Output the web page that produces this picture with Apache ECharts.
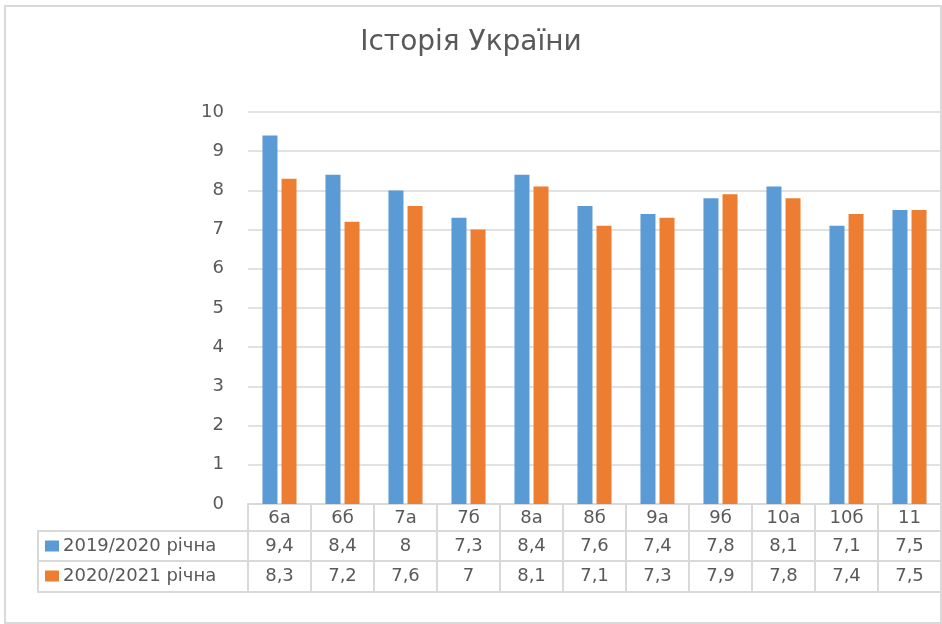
<!DOCTYPE html>
<html>
<head>
<meta charset="utf-8">
<script src="https://cdn.jsdelivr.net/npm/echarts@6/dist/echarts.min.js"></script>
<style>
html,body{margin:0;padding:0;background:#fff;}
#chart{width:942px;height:624px;}
</style>
</head>
<body>
<div id="chart"></div>
<script>
var title = 'Історія України';
var categories = ['6а','6б','7а','7б','8а','8б','9а','9б','10а','10б','11'];
var seriesNames = ['2019/2020 річна','2020/2021 річна'];
var values2019 = [9.4,8.4,8,7.3,8.4,7.6,7.4,7.8,8.1,7.1,7.5];
var values2020 = [8.3,7.2,7.6,7,8.1,7.1,7.3,7.9,7.8,7.4,7.5];
var yTicks = [0,1,2,3,4,5,6,7,8,9,10];

var FONT = 'DejaVu Sans';
var TXT = '#595959';
var LINE = '#d9d9d9';
var FS = 18;
function fmt(v){ return String(v).replace('.', ','); }

var chart = echarts.init(document.getElementById('chart'));
var gridLeft = 248, gridRight = 1, gridTop = 112, gridBottom = 120;
var H = 624;
var axisY = H - gridBottom;
var rowOff = [0, 27, 57, 88];

function tableAxis(off, vals, margin){
  return {
    type:'category', data:categories, position:'bottom', offset:off,
    axisLine:{show:true, lineStyle:{color:LINE, width:2}},
    axisTick:{show:false}, splitLine:{show:false},
    axisLabel:{show: !!vals, interval:0, margin:margin, fontFamily:FONT, fontSize:FS, lineHeight:FS, color:TXT,
      formatter:function(v,i){ return vals ? fmt(vals[i]) : ''; }}
  };
}

chart.setOption({
  animation:false,
  title:{text:title, left:'center', top:24, textStyle:{fontFamily:FONT, fontSize:28, fontWeight:'normal', color:TXT}},
  legend:{
    orient:'vertical', left:45, top:axisY + rowOff[1] + 6, itemGap:12, padding:0,
    itemWidth:14, itemHeight:11, icon:'rect',
    textStyle:{fontFamily:FONT, fontSize:FS, lineHeight:FS, color:TXT, padding:[0,0,0,-1]},
    data:seriesNames
  },
  grid:{left:gridLeft, right:gridRight, top:gridTop, bottom:gridBottom, containLabel:false},
  xAxis:[
    {
      type:'category', data:categories, position:'bottom',
      axisLine:{show:true, lineStyle:{color:LINE, width:2}},
      axisTick:{show:true, interval:0, length:rowOff[3], lineStyle:{color:LINE, width:2}},
      axisLabel:{interval:0, margin:5, fontFamily:FONT, fontSize:FS, lineHeight:FS, color:TXT}
    },
    tableAxis(rowOff[1], values2019, 6),
    tableAxis(rowOff[2], values2020, 6),
    tableAxis(rowOff[3], null, 6)
  ],
  yAxis:{
    type:'value', min:yTicks[0], max:yTicks[yTicks.length-1], interval:1,
    axisLine:{show:false}, axisTick:{show:false},
    splitLine:{lineStyle:{color:LINE, width:1.5}},
    axisLabel:{margin:24, fontFamily:FONT, fontSize:FS, color:TXT}
  },
  series:[
    {name:seriesNames[0], type:'bar', data:values2019, barWidth:15, barGap:'27%', itemStyle:{color:'#5b9bd5'}},
    {name:seriesNames[1], type:'bar', data:values2020, barWidth:15, itemStyle:{color:'#ed7d31'}}
  ],
  graphic:[
    {type:'rect', silent:true, z:-1, shape:{x:5, y:6, width:936, height:617},
      style:{fill:'none', stroke:LINE, lineWidth:2}},
    {type:'polyline', silent:true, shape:{points:[[gridLeft, axisY+rowOff[1]],[38, axisY+rowOff[1]],[38, axisY+rowOff[3]],[gridLeft, axisY+rowOff[3]]]},
      style:{fill:'none', stroke:LINE, lineWidth:2}},
    {type:'line', silent:true, shape:{x1:38, y1:axisY+rowOff[2], x2:gridLeft, y2:axisY+rowOff[2]},
      style:{stroke:LINE, lineWidth:2}}
  ]
});
</script>
</body>
</html>
